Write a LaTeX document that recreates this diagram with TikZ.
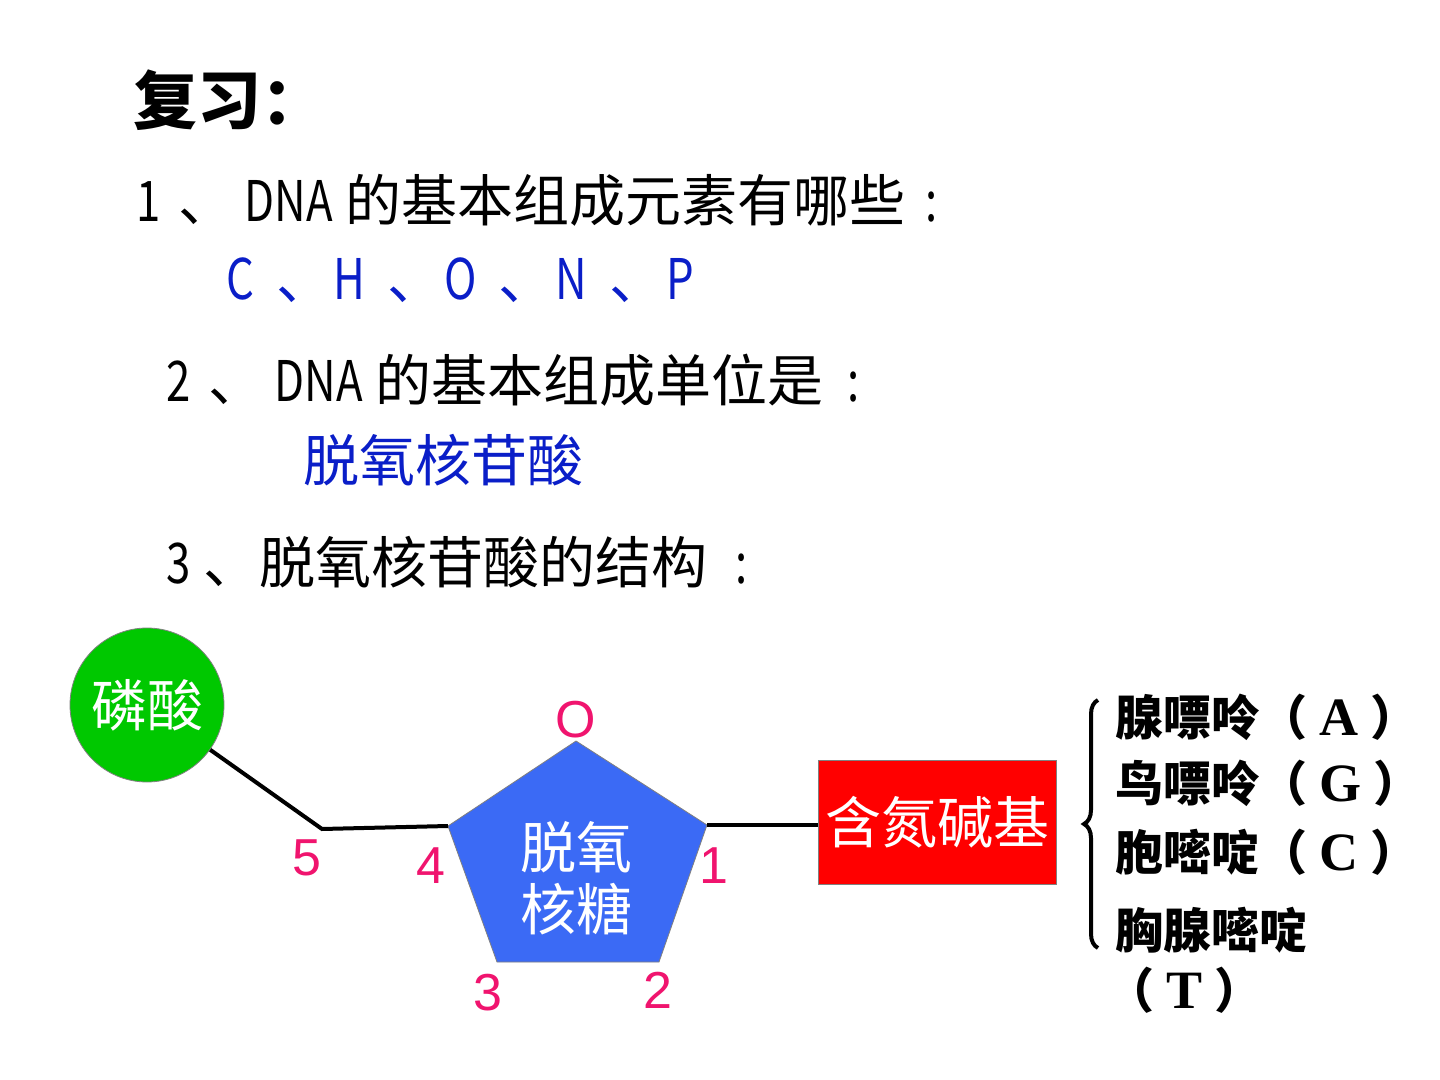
\documentclass[tikz,border=0pt]{standalone}
\usepackage{graphicx}
\usepackage{fontspec}
\setmainfont{Noto Sans CJK SC}
\newfontfamily\arialfont{Liberation Sans}
\newfontfamily\romanfont{Liberation Serif}
\newcommand{\nrw}[1]{\scalebox{0.78}[1]{#1}}
\newcommand{\ltr}[1]{{\romanfont\bfseries\fontsize{27}{28}\selectfont #1}}
\usetikzlibrary{decorations.pathreplacing}
\definecolor{txtblue}{RGB}{10,30,200}
\definecolor{numpink}{RGB}{240,20,110}
\definecolor{sugarblue}{RGB}{59,106,245}
\definecolor{phosgreen}{RGB}{0,200,0}
\definecolor{basered}{RGB}{255,0,0}
\begin{document}
\begin{tikzpicture}[x=0.5pt,y=-0.5pt,
    line/.style={line width=2pt},
    num/.style={text=numpink,font=\arialfont\fontsize{26}{30}\selectfont},
    item/.style={anchor=west,inner sep=0pt,font=\fontsize{28}{34}\selectfont},
    base/.style={anchor=west,inner sep=0pt,font=\bfseries\fontsize{24}{28}\selectfont}]
  \useasboundingbox[fill=white] (0,0) rectangle (1440,1080);
  % text lines
  \node[item,font=\bfseries\fontsize{32}{36}\selectfont] (title) at (133,100) {复习：};
  \node[item] (q1) at (136,200) {\nrw{1}\hspace{9pt}、\hspace{5pt}\nrw{DNA} 的基本组成元素有哪些\hspace{10pt}\nrw{:}};
  \node[item,text=txtblue] (a1) at (226,280) {\nrw{C}\hspace{11pt}、\hspace{0.5pt}\nrw{H}\hspace{11pt}、\hspace{0.5pt}\nrw{O}\hspace{11pt}、\hspace{0.5pt}\nrw{N}\hspace{11pt}、\hspace{0.5pt}\nrw{P}};
  \node[item] (q2) at (166,380) {\nrw{2}\hspace{9pt}、\hspace{5pt}\nrw{DNA} 的基本组成单位是\hspace{12pt}\nrw{:}};
  \node[item,text=txtblue] (a2) at (303,460) {脱氧核苷酸};
  \node[item] (q3) at (166,562) {\nrw{3} 、脱氧核苷酸的结构\hspace{14pt}\nrw{:}};
  % phosphate
  \node[circle,draw=gray,fill=phosgreen,minimum size=77pt,inner sep=0pt,
    text=white,font=\fontsize{28}{30}\selectfont] (phos) at (147,705) {磷酸};
  % sugar
  \coordinate (s0) at (576,741);
  \coordinate (s4) at (448,826);
  \coordinate (s3) at (497,962);
  \coordinate (s2) at (659,962);
  \coordinate (s1) at (707,825);
  \fill[sugarblue,draw=gray] (s0) -- (s4) -- (s3) -- (s2) -- (s1) -- cycle;
  \node[align=center,text=white,font=\fontsize{28}{31}\selectfont] (sugar) at (576,878) {脱氧\\核糖};
  \coordinate (c5) at (322,829);
  % base
  \node[rectangle,draw=gray,fill=basered,minimum width=119pt,minimum height=62pt,
    text=white,font=\fontsize{28}{32}\selectfont] (nbase) at (937,822) {含氮碱基};
  \draw[line] (phos) -- (c5) -- (s4);
  \draw[line] (s1) -- (nbase.west |- s1);
  % numbers
  \node[num] (nO) at (576,720) {O};
  \node[num] (n5) at (307,858) {5};
  \node[num] (n4) at (431,866) {4};
  \node[num] (n1) at (714,866) {1};
  \node[num] (n3) at (488,993) {3};
  \node[num] (n2) at (658,990) {2};
  % brace and bases
  \coordinate (btop) at (1098,700);
  \coordinate (bbot) at (1098,948);
  \draw[line width=2pt,decorate,decoration={brace,amplitude=7pt}] (bbot) -- (btop);
  \node[base] (ade) at (1115,717) {腺嘌呤（\hspace{6pt}\ltr{A}\hspace{6pt}）};
  \node[base] (gua) at (1115,783) {鸟嘌呤（\hspace{6pt}\ltr{G}\hspace{6pt}）};
  \node[base] (cyt) at (1115,852) {胞嘧啶（\hspace{6pt}\ltr{C}\hspace{6pt}）};
  \node[base] (thy) at (1115,930) {胸腺嘧啶};
  \node[base] (thyl) at (1106,990) {（\hspace{6pt}\ltr{T}\hspace{6pt}）};
\end{tikzpicture}
\end{document}
